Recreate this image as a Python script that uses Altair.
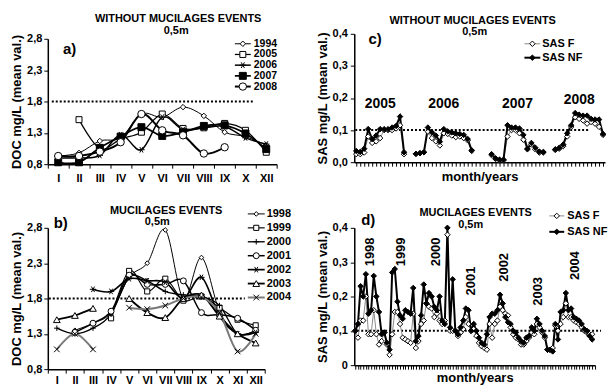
import altair as alt
import pandas as pd

FONT = "Liberation Sans"

# ---------------- panel a : DOC without mucilages ----------------
months_a = ["I", "II", "III", "IV", "V", "VI", "VII", "VIII", "IX", "X", "XII"]
years_a = ["1994", "2005", "2006", "2007", "2008"]
doc_1994 = [0.93, 0.98, 1.17, 1.22, 1.60, 1.55, 1.71, 1.57, 1.31, 1.24, 1.10]
doc_2005 = [None, 1.51, 1.05, 1.20, 1.31, 1.60, 1.37, 1.38, 1.45, 1.34, 0.99]
doc_2006 = [0.90, 0.90, 0.94, 1.27, 1.03, 1.55, 1.35, 1.38, 1.40, 1.22, 1.12]
doc_2007 = [0.83, 0.83, 1.06, 1.24, 1.39, 1.25, 1.31, 1.41, 1.42, 1.29, 1.04]
doc_2008 = [0.93, 0.93, 1.00, 1.15, 1.60, 1.34, 1.26, 0.97, 1.07, None, None]

# ---------------- panel b : DOC mucilages events ----------------
months_b = ["I", "II", "III", "IV", "V", "VI", "VII", "VIII", "IX", "X", "XI", "XII"]
years_b = ["1998", "1999", "2000", "2001", "2002", "2003", "2004"]
doc_1998 = [None, 1.35, 1.45, 1.60, 2.10, 2.30, 2.77, 1.80, 2.38, 1.62, 1.30, 1.35]
doc_1999 = [None, None, None, 1.52, 2.19, 1.90, 2.08, 1.77, 1.83, 1.67, 1.50, 1.42]
doc_2000 = [1.38, 1.30, 1.38, 1.58, 2.10, 2.05, 1.90, 1.85, 1.83, 1.70, 1.30, 1.35]
doc_2001 = [None, 1.32, 1.45, 1.62, 2.13, 2.00, 2.00, 2.05, 1.60, 1.57, 1.52, 1.35]
doc_2002 = [None, None, 1.93, 1.90, 2.08, 2.05, 2.03, 1.80, 2.10, 1.55, 1.30, 1.32]
doc_2003 = [1.50, 1.56, 1.66, None, 1.80, 1.60, 1.53, 1.80, 1.85, 1.55, 1.30, 1.17]
doc_2004 = [1.08, 1.30, 1.08, None, 1.67, 1.65, 1.70, 1.80, 1.82, 1.60, 1.05, 1.30]

doc_ticks = [0.8, 1.3, 1.8, 2.3, 2.8]
doc_limit = 1.8

# ---------------- panel c : SAS without mucilages ----------------
years_c = ["2005", "2006", "2007", "2008"]
start_c = [1, 16, 35, 51]
sasnf_2005 = [0.035, 0.032, 0.042, 0.103, 0.072, 0.083, 0.103, 0.103, 0.103, 0.108, 0.113, 0.142, 0.031]
sasf_2005 = [0.025, 0.025, 0.030, 0.080, 0.060, 0.065, 0.075, 0.100, 0.100, 0.100, 0.105, 0.115, 0.025]
sasnf_2006 = [0.026, 0.028, 0.031, 0.108, 0.093, 0.083, 0.064, 0.103, 0.096, 0.093, 0.090, 0.088, 0.085, 0.072, 0.037]
sasf_2006 = [0.026, 0.028, 0.031, 0.095, 0.075, 0.065, 0.052, 0.090, 0.088, 0.083, 0.078, 0.080, 0.075, 0.068, 0.035]
sasnf_2007 = [0.025, 0.012, 0.008, 0.008, 0.115, 0.108, 0.108, 0.105, 0.085, 0.042, 0.060, 0.045, 0.033, 0.032]
sasf_2007 = [0.022, 0.010, 0.006, 0.006, 0.080, 0.100, 0.100, 0.090, 0.070, 0.040, 0.055, 0.040, 0.030, 0.030]
sasnf_2008 = [0.040, 0.045, 0.055, 0.090, 0.115, 0.153, 0.148, 0.145, 0.145, 0.135, 0.133, 0.133, 0.088]
sasf_2008 = [0.038, 0.042, 0.050, 0.080, 0.110, 0.140, 0.135, 0.130, 0.120, 0.125, 0.120, 0.110, 0.085]

# ---------------- panel d : SAS mucilages events ----------------
years_d = ["1998", "1999", "2000", "2001", "2002", "2003", "2004"]
sasnf_d = [
    [0.10, 0.12, 0.23, 0.20, 0.265, 0.15, 0.16, 0.26, 0.20, 0.155, 0.09, 0.095],
    [0.065, 0.045, 0.27, 0.28, 0.185, 0.145, 0.135, 0.16, 0.155, 0.15, 0.225, 0.07],
    [0.085, 0.145, 0.235, 0.18, 0.21, 0.20, 0.17, 0.16, 0.20, 0.13, 0.12, 0.40, 0.11, 0.25],
    [0.10, 0.09, 0.11, 0.13, 0.165, 0.16, 0.10, 0.12, 0.10, 0.08, 0.065, 0.06, 0.09],
    [0.14, 0.15, 0.15, 0.16, 0.205, 0.18, 0.14, 0.125, 0.12, 0.10, 0.095, 0.08],
    [0.07, 0.065, 0.08, 0.085, 0.11, 0.10, 0.135, 0.12, 0.10, 0.085, 0.045, 0.045, 0.04, 0.12],
    [0.075, 0.155, 0.16, 0.21, 0.16, 0.165, 0.14, 0.135, 0.13, 0.12, 0.105, 0.10, 0.085, 0.075],
]
sasf_d = [
    [0.10, 0.08, 0.13, 0.13, 0.20, 0.09, 0.09, 0.16, 0.09, 0.06, 0.07, 0.095],
    [0.06, 0.03, 0.09, 0.155, 0.155, 0.12, 0.08, 0.075, 0.07, 0.065, 0.15, 0.05],
    [0.07, 0.12, 0.13, 0.18, 0.17, 0.165, 0.14, 0.15, 0.13, 0.12, 0.13, 0.38, 0.10, 0.10],
    [0.10, 0.085, 0.095, 0.105, 0.14, 0.12, 0.10, 0.105, 0.085, 0.065, 0.055, 0.05, 0.045],
    [0.12, 0.08, 0.12, 0.13, 0.17, 0.16, 0.15, 0.145, 0.11, 0.09, 0.08, 0.075],
    [0.06, 0.06, 0.07, 0.08, 0.095, 0.09, 0.12, 0.11, 0.095, 0.08, 0.045, 0.045, 0.05, 0.115],
    [0.10, 0.12, 0.14, 0.18, 0.14, 0.14, 0.13, 0.125, 0.12, 0.11, 0.10, 0.095, 0.09, 0.09],
]

sas_ticks = [0.0, 0.1, 0.2, 0.3, 0.4]
sas_limit = 0.1
kinds = ["SAS F", "SAS NF"]

# ---------------- styles ----------------
ASTER = "M-1,0L1,0M-0.5,-0.87L0.5,0.87M-0.5,0.87L0.5,-0.87"
PLUS = "M-1,0L1,0M0,-1L0,1"
XCROSS = "M-0.8,-0.8L0.8,0.8M-0.8,0.8L0.8,-0.8"

style_a = {
    "1994": ("diamond", "white", 30, 1.0, "black"),
    "2005": ("square", "white", 55, 2.0, "black"),
    "2006": (ASTER, "black", 45, 2.0, "black"),
    "2007": ("square", "black", 55, 2.0, "black"),
    "2008": ("circle", "white", 35, 1.0, "black"),
}
style_b = {
    "1998": ("diamond", "white", 22, 1.0, "black"),
    "1999": ("square", "white", 50, 2.0, "black"),
    "2000": (PLUS, "black", 45, 2.0, "black"),
    "2001": ("circle", "white", 25, 2.0, "black"),
    "2002": (ASTER, "black", 45, 2.0, "black"),
    "2003": ("triangle-up", "white", 35, 2.0, "black"),
    "2004": (XCROSS, "black", 40, 1.2, "#7a7a7a"),
}
style_sas = {
    "SAS F": ("diamond", "white", 30, 1.0, "#8a8a8a"),
    "SAS NF": ("diamond", "black", 30, 2.0, "black"),
}

comma_expr = "replace(format(datum.value, '.1f'), '.', ',')"
bold = "bold"
INDEP = dict(shape="independent", fill="independent", size="independent",
             strokeWidth="independent", color="independent")


def style_encodings(names, styles):
    return dict(
        shape=alt.Shape("series:N", scale=alt.Scale(domain=names, range=[styles[n][0] for n in names]), legend=None),
        fill=alt.Fill("series:N", scale=alt.Scale(domain=names, range=[styles[n][1] for n in names]), legend=None),
        size=alt.Size("series:N", scale=alt.Scale(domain=names, range=[styles[n][2] for n in names]), legend=None),
        sw=alt.StrokeWidth("series:N", scale=alt.Scale(domain=names, range=[styles[n][3] for n in names]), legend=None),
        color=alt.Color("series:N", scale=alt.Scale(domain=names, range=[styles[n][4] for n in names]), legend=None),
    )


def make_legend(names, styles, ys, xs, font_size):
    enc = style_encodings(names, styles)
    leg = pd.DataFrame({"series": names, "rank": list(range(len(names)))})
    ly = alt.Y("rank:Q", scale=alt.Scale(domain=[0, len(names) - 1], range=list(ys)), axis=None)
    base = alt.Chart(leg)
    line = base.mark_rule().encode(y=ly, x=alt.value(xs[0]), x2=alt.value(xs[1]),
                                   strokeWidth=enc["sw"], color=enc["color"])
    pts = base.mark_point(stroke="black", strokeWidth=1, opacity=1).encode(
        y=ly, x=alt.value((xs[0] + xs[1]) / 2), shape=enc["shape"], fill=enc["fill"], size=enc["size"])
    txt = base.mark_text(align="left", baseline="middle", fontSize=font_size, fontWeight=bold).encode(
        y=ly, x=alt.value(xs[2]), text="series:N")
    return alt.layer(line, pts, txt)


def text_layer(text, x, y, size, angle=0):
    return alt.Chart(pd.DataFrame({"t": [text]})).mark_text(
        fontSize=size, fontWeight=bold, align="center", baseline="middle", angle=angle).encode(
        text="t:N", x=alt.value(x), y=alt.value(y))


def title_layers(title, pos_title, pos_sub):
    return [text_layer(title, pos_title[0], pos_title[1], 11),
            text_layer("0,5m", pos_sub[0], pos_sub[1], 11)]


def doc_frame(months, names, series):
    rows = []
    for name, vals in zip(names, series):
        seg, gap = 0, True
        for pos, (m, v) in enumerate(zip(months, vals)):
            if v is None:
                gap = True
                continue
            if gap:
                seg += 1
                gap = False
            rows.append(dict(month=m, pos=pos, series=name, value=v, seg=f"{name}_{seg}"))
    return pd.DataFrame(rows)


def doc_panel(df, months, names, styles, width, height, yrange, titles, tag, legend_ys, legend_xs,
              limit_xs, label_pad, legend_font):
    enc = style_encodings(names, styles)
    yaxis = alt.Axis(values=doc_ticks, labelExpr=comma_expr, title="DOC mg/L (mean val.)",
                     titleFontSize=13, titleFontWeight=bold, titlePadding=3, labelFontSize=11,
                     labelFontWeight=bold, tickSize=4, labelPadding=2, grid=False)
    yscale = alt.Scale(domain=[0.8, 2.8], range=list(yrange))
    xenc = alt.X("month:N", sort=months,
                 scale=alt.Scale(type="band", domain=months, paddingInner=0, paddingOuter=0),
                 axis=alt.Axis(title=None, labelAngle=0, tickBand="extent", tickSize=4,
                               labelPadding=label_pad, labelFontSize=11, labelFontWeight=bold))
    limit = alt.Chart(pd.DataFrame({"value": [doc_limit]})).mark_rule(
        strokeDash=[2, 2], strokeWidth=2, color="black").encode(
        y=alt.Y("value:Q", scale=yscale, axis=yaxis), x=alt.value(limit_xs[0]), x2=alt.value(limit_xs[1]))
    base = alt.Chart(df)
    lines = base.mark_line(interpolate="cardinal").encode(
        x=xenc, y=alt.Y("value:Q", scale=yscale, axis=yaxis), detail="seg:N", order="pos:Q",
        strokeWidth=enc["sw"], color=enc["color"])
    pts = base.mark_point(stroke="black", strokeWidth=1, opacity=1).encode(
        x=xenc, y=alt.Y("value:Q", scale=yscale, axis=yaxis),
        shape=enc["shape"], fill=enc["fill"], size=enc["size"])
    data_layers = alt.layer(limit, lines, pts, text_layer(*tag, 15), *titles)
    legend = make_legend(names, styles, legend_ys, legend_xs, legend_font)
    return alt.layer(data_layers, legend).resolve_scale(y="independent").properties(
        width=width, height=height)


def sas_panel(df, labels, width, height, xdomain, xticks, titles, tag, legend_ys, legend_xs,
              limit_xs, title_pad, y_zero_label, label_angle, label_size):
    enc = style_encodings(kinds, style_sas)
    if y_zero_label:
        lab_expr = "datum.value == 0 ? '0' : " + comma_expr
    else:
        lab_expr = comma_expr
    yaxis = alt.Axis(values=sas_ticks, labelExpr=lab_expr, title="SAS mg/L (mean val.)",
                     titleFontSize=13, titleFontWeight=bold, titlePadding=3, labelFontSize=11,
                     labelFontWeight=bold, tickSize=4, labelPadding=3, grid=False)
    yscale = alt.Scale(domain=[0, 0.4])
    xenc = alt.X("idx:Q", scale=alt.Scale(domain=xdomain, nice=False, zero=False),
                 axis=alt.Axis(values=xticks, labels=False, tickSize=4, title="month/years",
                               titleFontSize=13, titleFontWeight=bold, titlePadding=title_pad, grid=False))
    limit = alt.Chart(pd.DataFrame({"value": [sas_limit]})).mark_rule(
        strokeDash=[2, 2], strokeWidth=2, color="black").encode(
        y=alt.Y("value:Q", scale=yscale, axis=yaxis), x=alt.value(limit_xs[0]), x2=alt.value(limit_xs[1]))
    base = alt.Chart(df)
    lines = base.mark_line().encode(
        x=xenc, y=alt.Y("value:Q", scale=yscale, axis=yaxis), detail="grp:N", order="idx:Q",
        strokeWidth=enc["sw"], color=enc["color"])
    pts = base.mark_point(stroke="black", strokeWidth=1, opacity=1).encode(
        x=xenc, y=alt.Y("value:Q", scale=yscale, axis=yaxis),
        shape=enc["shape"], fill=enc["fill"], size=enc["size"])
    yl = alt.Chart(labels).mark_text(fontSize=label_size, fontWeight=bold, angle=label_angle,
                                     align="center", baseline="middle").encode(
        x=xenc, y=alt.Y("y:Q", scale=yscale, axis=yaxis), text="year:N")
    data_layers = alt.layer(limit, lines, pts, yl, text_layer(*tag, 15), *titles)
    legend = make_legend(kinds, style_sas, legend_ys, legend_xs, 11)
    return alt.layer(data_layers, legend).resolve_scale(y="independent").properties(
        width=width, height=height)


# ---------------- build tables ----------------
df_a = doc_frame(months_a, years_a, [doc_1994, doc_2005, doc_2006, doc_2007, doc_2008])
df_b = doc_frame(months_b, years_b, [doc_1998, doc_1999, doc_2000, doc_2001, doc_2002, doc_2003, doc_2004])

rows_c = []
c_f = [sasf_2005, sasf_2006, sasf_2007, sasf_2008]
c_nf = [sasnf_2005, sasnf_2006, sasnf_2007, sasnf_2008]
for kind, groups in (("SAS F", c_f), ("SAS NF", c_nf)):
    for year, start, vals in zip(years_c, start_c, groups):
        for k, v in enumerate(vals):
            rows_c.append(dict(idx=start + k, series=kind, value=v, grp=f"{year}_{kind}", year=year))
df_c = pd.DataFrame(rows_c)
lab_c = []
for year in years_c:
    g = df_c[df_c.year == year]
    lab_c.append(dict(year=year, idx=g.idx.mean(), y=max(0.18, g.value.max() + 0.04)))
lab_c = pd.DataFrame(lab_c)

rows_d = []
for kind, groups in (("SAS F", sasf_d), ("SAS NF", sasnf_d)):
    i = 0
    for year, vals in zip(years_d, groups):
        for v in vals:
            rows_d.append(dict(idx=i, series=kind, value=v, grp=kind, year=year))
            i += 1
df_d = pd.DataFrame(rows_d)
lab_d = []
for year in years_d:
    g = df_d[df_d.year == year]
    lab_d.append(dict(year=year, idx=g.idx.mean(), y=min(0.33, g.value.max() + 0.08)))
lab_d = pd.DataFrame(lab_d)

n_d = len(df_d) // 2

# ---------------- panels ----------------
panel_a = doc_panel(df_a, months_a, years_a, style_a, 230, 131, (131, 5),
                    title_layers("WITHOUT MUCILAGES  EVENTS", (131, -15), (129, -3)),
                    ("a)", 22, 15), (10, 53), (188, 204, 207), (4, 206), 4, 10.5)
panel_b = doc_panel(df_b, months_b, years_b, style_b, 218, 142, (142, 0),
                    title_layers("MUCILAGES  EVENTS", (119, -17), (110, -6)),
                    ("b)", 13, -5), (-14, 70), (201, 218, 220), (1, 198), 1, 11)
panel_c = sas_panel(df_c, lab_c, 252, 129, [0.5, 63.5], list(range(1, 64)),
                    title_layers("WITHOUT MUCILAGES EVENTS", (119, -13), (121, -2)),
                    ("c)", 21, 5), (10, 24), (171, 187, 189), (1, 236), 4, False, 0, 14)
panel_d = sas_panel(df_d, lab_d, 242, 138, [-0.4, n_d + 0.1], list(range(0, n_d + 1)),
                    title_layers("MUCILAGES EVENTS", (122, -15), (117, -3)),
                    ("d)", 14, -8), (-12, 4), (196, 211, 214), (-1, 248), 2, True, 270, 13)

chart = alt.concat(
    panel_a, panel_c, panel_b, panel_d,
    columns=2, bounds="flush", align="each",
    spacing={"row": 64, "column": 78},
).resolve_scale(**INDEP).properties(
    padding={"left": 2, "top": 4, "right": 0, "bottom": 0}
).configure(font=FONT).configure_view(stroke=None).configure_axis(
    domainColor="black", tickColor="black", labelColor="black", titleColor="black",
    labelFont=FONT, titleFont=FONT, domainWidth=1.5, tickWidth=1
)

chart.save("out.html", embed_options={"renderer": "svg", "actions": False})
